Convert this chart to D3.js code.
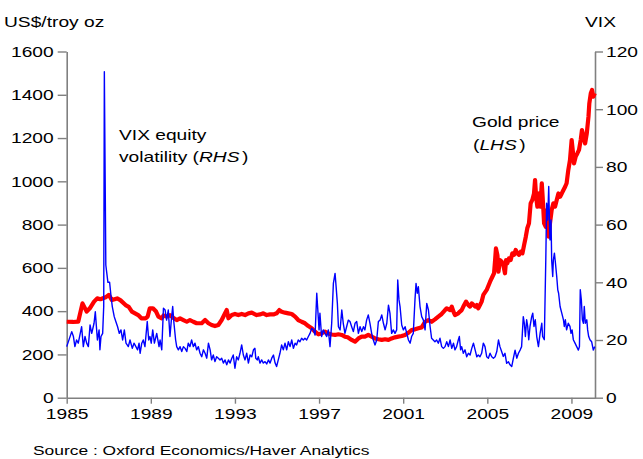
<!DOCTYPE html>
<html>
<head>
<meta charset="utf-8">
<script src="https://cdn.jsdelivr.net/npm/d3@7"></script>
<style>
  body { margin: 0; background: #fff; }
  svg { display: block; font-family: "Liberation Sans", Arial, sans-serif; }
</style>
</head>
<body>
<div id="chart"></div>
<script>
// gold price, US$/troy oz (left axis)
const goldSeries = [[1985.0,351],[1985.3,350],[1985.55,352],[1985.75,436],[1985.95,398],[1986.1,413],[1986.3,444],[1986.45,459],[1986.6,455],[1986.85,464],[1987.0,475],[1987.15,451],[1987.4,459],[1987.55,451],[1987.8,428],[1987.95,420],[1988.1,398],[1988.25,390],[1988.4,382],[1988.55,367],[1988.75,367],[1988.85,375],[1988.95,413],[1989.1,413],[1989.25,398],[1989.36,375],[1989.52,367],[1989.6,380],[1989.75,375],[1989.91,382],[1990.1,367],[1990.23,359],[1990.39,367],[1990.55,359],[1990.71,351],[1990.86,359],[1991.02,351],[1991.18,344],[1991.42,344],[1991.58,359],[1991.74,344],[1991.89,336],[1992.05,331],[1992.21,336],[1992.37,359],[1992.53,390],[1992.61,405],[1992.69,367],[1992.85,382],[1993.0,387],[1993.16,382],[1993.32,387],[1993.48,382],[1993.64,390],[1993.8,393],[1994.03,382],[1994.19,385],[1994.35,390],[1994.51,382],[1994.67,385],[1994.83,385],[1994.98,390],[1995.11,405],[1995.22,397],[1995.38,393],[1995.54,390],[1995.7,387],[1995.86,375],[1996.01,359],[1996.17,351],[1996.33,344],[1996.49,331],[1996.65,321],[1996.81,305],[1996.97,293],[1997.12,297],[1997.28,305],[1997.44,297],[1997.6,292],[1997.76,290],[1997.92,293],[1998.08,290],[1998.23,282],[1998.36,279],[1998.55,267],[1998.71,259],[1998.87,274],[1999.03,282],[1999.18,282],[1999.34,290],[1999.5,282],[1999.66,274],[1999.82,270],[1999.98,267],[2000.14,270],[2000.3,267],[2000.45,274],[2000.61,279],[2000.77,282],[2000.93,285],[2001.09,290],[2001.25,300],[2001.4,313],[2001.56,316],[2001.72,321],[2001.88,325],[2002.04,351],[2002.2,359],[2002.35,351],[2002.51,362],[2002.67,375],[2002.83,387],[2002.99,405],[2003.07,413],[2003.23,405],[2003.31,421],[2003.39,398],[2003.46,382],[2003.62,390],[2003.7,398],[2003.78,405],[2003.86,421],[2003.99,444],[2004.1,428],[2004.18,421],[2004.26,436],[2004.42,421],[2004.5,428],[2004.57,413],[2004.65,428],[2004.73,444],[2004.81,475],[2004.97,498],[2005.13,536],[2005.24,559],[2005.32,575],[2005.37,636],[2005.41,690],[2005.48,659],[2005.53,582],[2005.6,636],[2005.68,629],[2005.76,614],[2005.84,575],[2005.89,636],[2005.95,621],[2006.03,644],[2006.11,636],[2006.19,667],[2006.27,660],[2006.35,683],[2006.43,667],[2006.51,660],[2006.59,675],[2006.67,667],[2006.75,706],[2006.83,744],[2006.9,783],[2006.98,806],[2007.06,898],[2007.14,914],[2007.22,944],[2007.27,1006],[2007.32,929],[2007.38,883],[2007.46,944],[2007.52,883],[2007.59,991],[2007.63,929],[2007.7,806],[2007.78,790],[2007.85,868],[2007.92,744],[2007.98,806],[2008.06,868],[2008.14,898],[2008.22,883],[2008.3,914],[2008.38,944],[2008.46,929],[2008.54,944],[2008.62,960],[2008.7,975],[2008.77,991],[2008.85,1052],[2008.93,1098],[2009.01,1191],[2009.06,1145],[2009.12,1083],[2009.2,1114],[2009.28,1129],[2009.36,1145],[2009.44,1191],[2009.5,1237],[2009.57,1206],[2009.65,1175],[2009.73,1222],[2009.81,1299],[2009.85,1360],[2009.92,1407],[2009.98,1422],[2010.04,1391],[2010.11,1407]];

// VIX equity volatility (right axis)
const vixSeries = [[1985.0,17.7],[1985.24,22.9],[1985.32,21.2],[1985.39,17.7],[1985.47,20.0],[1985.55,18.9],[1985.71,24.6],[1985.79,17.7],[1985.87,21.2],[1985.95,18.9],[1986.03,17.7],[1986.11,25.2],[1986.19,22.3],[1986.3,25.8],[1986.36,29.8],[1986.46,20.0],[1986.54,23.5],[1986.58,16.6],[1986.63,21.2],[1986.71,22.3],[1986.76,31.6],[1986.79,113],[1986.86,46],[1986.96,40],[1987.04,40],[1987.11,35],[1987.17,31.5],[1987.26,28.1],[1987.34,26.3],[1987.42,24.6],[1987.5,22.3],[1987.58,23.5],[1987.66,20.0],[1987.74,23.5],[1987.82,18.9],[1987.93,17.7],[1988.01,20.0],[1988.12,17.1],[1988.2,18.9],[1988.29,17.7],[1988.37,16.6],[1988.44,18.9],[1988.49,15.4],[1988.57,18.9],[1988.64,20.0],[1988.72,17.7],[1988.83,26.4],[1988.9,20.0],[1988.96,21.2],[1989.02,18.9],[1989.09,23.5],[1989.17,18.9],[1989.28,22.3],[1989.39,17.7],[1989.44,20.0],[1989.52,16.6],[1989.6,31.0],[1989.68,30.4],[1989.75,26.9],[1989.83,30.4],[1989.91,21.2],[1989.99,28.1],[1990.04,31.6],[1990.1,25.8],[1990.18,20.0],[1990.23,17.7],[1990.31,16.6],[1990.39,17.7],[1990.47,16.0],[1990.55,17.7],[1990.63,17.1],[1990.71,16.0],[1990.78,18.9],[1990.86,17.7],[1990.94,20.0],[1991.02,17.7],[1991.1,18.9],[1991.18,16.6],[1991.26,17.7],[1991.34,15.4],[1991.42,14.2],[1991.5,16.6],[1991.58,15.4],[1991.66,13.7],[1991.74,18.9],[1991.82,16.6],[1991.89,13.1],[1991.97,14.8],[1992.05,12.5],[1992.13,14.2],[1992.21,13.7],[1992.29,13.1],[1992.37,13.7],[1992.45,12.0],[1992.53,13.1],[1992.61,11.4],[1992.69,13.1],[1992.77,12.0],[1992.85,13.7],[1992.92,14.8],[1993.0,10.2],[1993.08,14.2],[1993.16,13.1],[1993.24,15.4],[1993.32,18.3],[1993.4,14.8],[1993.48,13.1],[1993.56,15.4],[1993.64,12.0],[1993.72,14.8],[1993.8,14.2],[1993.88,16.6],[1993.95,17.1],[1993.99,13.7],[1994.06,13.1],[1994.11,14.2],[1994.19,12.0],[1994.27,13.1],[1994.35,12.0],[1994.43,12.5],[1994.51,11.7],[1994.59,13.1],[1994.67,12.0],[1994.75,13.7],[1994.83,14.8],[1994.91,12.0],[1994.98,10.8],[1995.06,13.1],[1995.14,15.4],[1995.22,18.3],[1995.3,16.6],[1995.38,18.9],[1995.46,16.6],[1995.54,19.4],[1995.62,17.7],[1995.7,20.0],[1995.78,17.1],[1995.86,18.9],[1995.93,18.3],[1996.01,20.0],[1996.09,19.4],[1996.17,20.6],[1996.25,20.0],[1996.33,20.6],[1996.41,20.0],[1996.49,21.2],[1996.57,22.3],[1996.65,24.1],[1996.73,23.5],[1996.81,21.7],[1996.89,36.2],[1996.93,31.6],[1997.0,23.5],[1997.04,29.3],[1997.12,21.2],[1997.2,23.5],[1997.28,22.3],[1997.36,21.2],[1997.44,23.5],[1997.52,17.7],[1997.6,25.8],[1997.68,39.6],[1997.76,43.1],[1997.81,38.5],[1997.87,32.7],[1997.92,24.6],[1998.0,23.5],[1998.08,30.4],[1998.15,25.8],[1998.23,22.3],[1998.31,24.6],[1998.39,26.9],[1998.47,26.4],[1998.55,24.6],[1998.63,22.9],[1998.71,25.8],[1998.79,26.4],[1998.87,22.3],[1998.95,24.6],[1999.03,22.9],[1999.11,24.6],[1999.18,23.5],[1999.26,26.9],[1999.34,28.7],[1999.42,25.8],[1999.5,22.3],[1999.58,20.0],[1999.66,18.3],[1999.74,20.0],[1999.82,26.4],[1999.9,26.9],[1999.98,28.7],[2000.06,25.8],[2000.14,23.5],[2000.22,25.8],[2000.3,32.1],[2000.37,29.3],[2000.45,22.3],[2000.53,23.5],[2000.61,22.3],[2000.69,23.5],[2000.74,40.8],[2000.8,33.9],[2000.85,31.6],[2000.93,25.2],[2001.01,23.5],[2001.09,24.6],[2001.17,22.3],[2001.25,20.0],[2001.33,18.9],[2001.4,21.2],[2001.48,22.3],[2001.56,33.9],[2001.61,39.6],[2001.67,36.2],[2001.72,38.5],[2001.8,31.6],[2001.88,28.1],[2001.96,26.9],[2002.04,23.5],[2002.12,32.7],[2002.2,30.4],[2002.28,24.6],[2002.35,20.6],[2002.43,20.0],[2002.51,19.4],[2002.59,20.0],[2002.67,18.9],[2002.75,20.6],[2002.83,17.7],[2002.91,17.1],[2002.99,17.7],[2003.07,19.4],[2003.15,17.7],[2003.23,20.0],[2003.31,17.1],[2003.39,18.9],[2003.46,16.6],[2003.54,17.7],[2003.62,20.0],[2003.67,21.2],[2003.73,16.6],[2003.78,17.7],[2003.86,15.4],[2003.94,16.6],[2004.02,14.2],[2004.1,15.4],[2004.18,14.8],[2004.26,17.1],[2004.34,18.9],[2004.42,16.6],[2004.5,14.2],[2004.57,14.8],[2004.65,14.2],[2004.73,15.4],[2004.81,18.9],[2004.89,17.7],[2004.97,14.2],[2005.05,13.7],[2005.13,15.4],[2005.21,14.2],[2005.29,13.7],[2005.37,14.2],[2005.45,16.0],[2005.53,20.0],[2005.6,17.7],[2005.68,16.0],[2005.76,14.3],[2005.84,15.4],[2005.92,11.9],[2006.0,12.5],[2006.08,11.4],[2006.16,10.8],[2006.24,13.7],[2006.32,16.5],[2006.4,13.7],[2006.48,15.4],[2006.56,16.5],[2006.63,17.7],[2006.71,28.1],[2006.76,25.8],[2006.81,21.2],[2006.87,27.0],[2006.92,24.7],[2006.97,20.1],[2007.03,24.7],[2007.11,28.1],[2007.16,29.3],[2007.22,24.7],[2007.28,27.0],[2007.35,21.2],[2007.43,17.7],[2007.51,22.3],[2007.59,25.8],[2007.63,21.2],[2007.71,20.1],[2007.78,47.7],[2007.82,67.4],[2007.87,61.6],[2007.92,73.2],[2007.95,62.8],[2007.98,54.7],[2008.03,61.6],[2008.06,47.7],[2008.11,42.0],[2008.14,47.7],[2008.19,50.1],[2008.24,46.6],[2008.3,42.0],[2008.35,37.4],[2008.39,36.2],[2008.46,31.6],[2008.54,29.3],[2008.62,27.0],[2008.66,24.7],[2008.71,27.0],[2008.77,23.5],[2008.85,25.8],[2008.93,24.7],[2008.98,22.3],[2009.03,23.5],[2009.09,20.1],[2009.17,18.9],[2009.25,17.7],[2009.33,16.5],[2009.38,17.7],[2009.42,37.4],[2009.47,33.9],[2009.52,27.0],[2009.57,25.8],[2009.61,31.6],[2009.66,25.8],[2009.73,27.0],[2009.77,23.5],[2009.82,21.2],[2009.88,20.1],[2009.96,19.4],[2010.04,16.5],[2010.11,17.7]];

const yearTicks = [1985, 1989, 1993, 1997, 2001, 2005, 2009];
const goldTicks = [0, 200, 400, 600, 800, 1000, 1200, 1400, 1600];
const vixTicks = [0, 20, 40, 60, 80, 100, 120];

const w = 643, h = 459;
const plotLeft = 66.7, plotRight = 595, plotTop = 51.5, plotBottom = 397.7;
const SX = 1.28; // the original text is drawn wide

const svg = d3.select("#chart").append("svg")
  .attr("width", w)
  .attr("height", h);

svg.append("rect").attr("width", w).attr("height", h).attr("fill", "#fff");

const xScale = d3.scaleLinear().domain([1985, 2010.12]).range([plotLeft, plotRight]);
const yGold = d3.scaleLinear().domain([0, 1600]).range([plotBottom, plotTop]);
const yVix = d3.scaleLinear().domain([0, 120]).range([plotBottom, plotTop]);

// stretch text horizontally, keeping its anchor point in place
function stretch(sel) {
  sel.each(function() {
    const t = d3.select(this);
    const x = +t.attr("x") || 0;
    t.attr("x", x / SX).attr("transform", "scale(" + SX + ",1)");
  });
}

function styleAxis(g) {
  g.select(".domain").attr("stroke", "#808080").attr("stroke-width", 1.6);
  g.selectAll(".tick line").attr("stroke", "#808080").attr("stroke-width", 1.4);
  g.selectAll(".tick text")
    .attr("fill", "#000")
    .style("font-size", "15px")
    .style("font-family", "'Liberation Sans', Arial, sans-serif")
    .call(stretch);
}

const xAxis = d3.axisBottom(xScale).tickValues(yearTicks).tickFormat(d3.format("d"))
  .tickSize(6).tickPadding(5).tickSizeOuter(0);
const yAxisL = d3.axisLeft(yGold).tickValues(goldTicks).tickFormat(d3.format("d"))
  .tickSize(9).tickPadding(4).tickSizeOuter(0);
const yAxisR = d3.axisRight(yVix).tickValues(vixTicks).tickFormat(d3.format("d"))
  .tickSize(8).tickPadding(3).tickSizeOuter(0);

svg.append("g").attr("id", "x-axis")
  .attr("transform", "translate(0," + plotBottom + ")")
  .call(xAxis).call(styleAxis);

svg.append("g").attr("id", "y-axis-left")
  .attr("transform", "translate(" + plotLeft + ",0)")
  .call(yAxisL).call(styleAxis);

svg.append("g").attr("id", "y-axis-right")
  .attr("transform", "translate(" + plotRight + ",0)")
  .call(yAxisR).call(styleAxis);

const goldLine = d3.line().x(d => xScale(d[0])).y(d => yGold(d[1]));
const vixLine = d3.line().x(d => xScale(d[0])).y(d => yVix(d[1]));

svg.append("path")
  .datum(goldSeries)
  .attr("d", goldLine)
  .attr("fill", "none")
  .attr("stroke", "#ff0000")
  .attr("stroke-width", 4.2)
  .attr("stroke-linejoin", "round");

svg.append("path")
  .datum(vixSeries)
  .attr("d", vixLine)
  .attr("fill", "none")
  .attr("stroke", "#0000ff")
  .attr("stroke-width", 1.4)
  .attr("stroke-linejoin", "round");

// free text labels
function label(x, y, size, parts) {
  const t = svg.append("g")
    .attr("transform", "translate(" + x + "," + y + ")")
    .append("text")
    .attr("transform", "scale(" + SX + ",1)")
    .attr("fill", "#000")
    .style("font-size", size + "px");
  parts.forEach(p => {
    const s = t.append("tspan").text(p.text);
    if (p.italic) s.style("font-style", "italic");
    if (p.dx) s.attr("dx", p.dx);
  });
  return t;
}

label(4, 27, 15, [{text: "US$/troy oz"}]);
label(585, 27, 15, [{text: "VIX"}]);
label(119, 140, 15, [{text: "VIX equity"}]);
label(119, 162, 15, [{text: "volatility ("}, {text: "RHS", italic: true}, {text: ")", dx: 2}]);
label(472, 127, 15, [{text: "Gold price"}]);
label(473, 150, 15, [{text: "("}, {text: "LHS", italic: true}, {text: ")", dx: 2}]);
label(33, 455, 13.6, [{text: "Source : Oxford Economics/Haver Analytics"}]);
</script>
</body>
</html>
